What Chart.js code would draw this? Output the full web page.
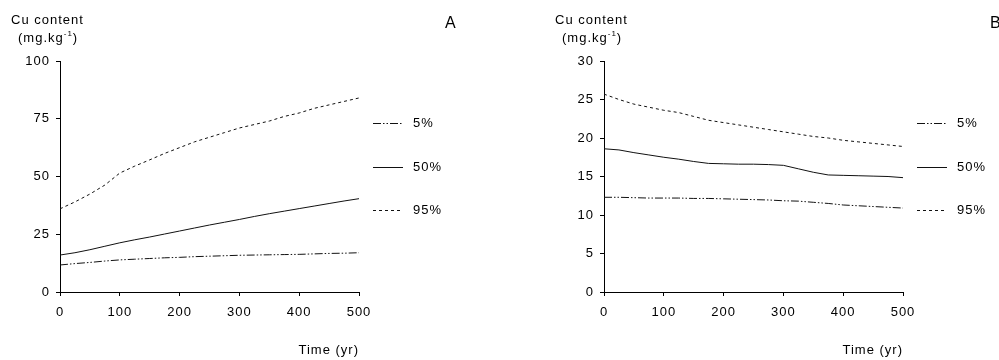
<!DOCTYPE html>
<html>
<head>
<meta charset="utf-8">
<script src="https://cdn.jsdelivr.net/npm/chart.js@4.4.1/dist/chart.umd.min.js"></script>
<style>
  html, body { margin: 0; padding: 0; background: #fff; }
  #wrap { position: relative; width: 999px; height: 360px; overflow: hidden; }
  .panel { position: absolute; top: 0; height: 360px; }
  #pA { left: 0; width: 540px; }
  #pB { left: 540px; width: 459px; }
</style>
</head>
<body>
<div id="wrap">
  <div class="panel" id="pA"><canvas id="cA" width="540" height="360"></canvas></div>
  <div class="panel" id="pB"><canvas id="cB" width="459" height="360"></canvas></div>
</div>
<script>
// Time axis (years) shared by both panels
const years = [0, 25, 50, 75, 100, 125, 150, 175, 200, 225, 250, 275, 300, 325, 350, 375, 400, 425, 450, 475, 500];
const seriesLabels = ['5%', '50%', '95%'];
const xTicks = [0, 100, 200, 300, 400, 500];

// Panel A: Cu content percentiles (mg/kg)
const copperA5  = [11.7, 12.3, 12.8, 13.4, 13.9, 14.2, 14.5, 14.8, 15.0, 15.3, 15.5, 15.7, 15.9, 16.0, 16.1, 16.2, 16.3, 16.5, 16.7, 16.8, 17.0];
const copperA50 = [16.0, 17.0, 18.3, 19.8, 21.3, 22.6, 23.8, 25.1, 26.4, 27.7, 29.0, 30.2, 31.4, 32.7, 33.9, 35.0, 36.1, 37.2, 38.3, 39.4, 40.4];
const copperA95 = [36.0, 39.0, 42.4, 46.3, 51.5, 54.5, 57.2, 60.0, 62.5, 65.0, 67.0, 69.0, 71.0, 72.5, 74.0, 76.0, 77.5, 79.5, 81.0, 82.5, 84.0];
const yTicksA = [0, 25, 50, 75, 100];

// Panel B: Cu content percentiles (mg/kg)
const copperB5  = [12.3, 12.3, 12.25, 12.2, 12.2, 12.2, 12.15, 12.15, 12.1, 12.05, 12.0, 11.95, 11.85, 11.8, 11.65, 11.5, 11.3, 11.2, 11.1, 11.0, 10.9];
const copperB50 = [18.6, 18.45, 18.1, 17.8, 17.5, 17.25, 16.95, 16.7, 16.65, 16.6, 16.6, 16.55, 16.45, 16.0, 15.55, 15.2, 15.15, 15.1, 15.05, 15.0, 14.85];
const copperB95 = [25.7, 25.0, 24.4, 24.0, 23.6, 23.3, 22.8, 22.3, 22.0, 21.7, 21.4, 21.1, 20.8, 20.5, 20.2, 20.0, 19.7, 19.5, 19.3, 19.1, 18.9];
const yTicksB = [0, 5, 10, 15, 20, 25, 30];

const FAMILY = "'Liberation Sans', Arial, Helvetica, sans-serif";
const INK = '#000';
const LETTER_SPACING = '1px';
const dashes = [[8, 2, 1.5, 2, 1.5, 2], [], [3, 3]];

// Keep the slightly spaced lettering on every pass (layout and paint)
const spacingPlugin = {
  id: 'spacing',
  beforeUpdate(chart) { chart.ctx.letterSpacing = LETTER_SPACING; },
  beforeDraw(chart) { chart.ctx.letterSpacing = LETTER_SPACING; }
};

// Axis caption, panel letter and the line-style key beside the plot
const annotPlugin = {
  id: 'annot',
  afterDraw(chart, args, opts) {
    const ctx = chart.ctx;
    const area = chart.chartArea;
    ctx.save();
    ctx.letterSpacing = LETTER_SPACING;
    ctx.fillStyle = INK;
    ctx.textBaseline = 'middle';
    ctx.textAlign = 'left';

    ctx.font = '13px ' + FAMILY;
    ctx.fillText('Cu content', opts.captionX, 20);

    // unit with superscript exponent
    let x = opts.captionX + 7;
    const base = '(mg.kg';
    ctx.fillText(base, x, 38);
    x += ctx.measureText(base).width;
    ctx.font = '8px ' + FAMILY;
    ctx.fillText('-1', x, 34);
    x += ctx.measureText('-1').width;
    ctx.font = '13px ' + FAMILY;
    ctx.fillText(')', x, 38);

    ctx.font = '16px ' + FAMILY;
    ctx.fillText(opts.letter, opts.letterX, 24);

    // key
    ctx.font = '13px ' + FAMILY;
    const keyY = [123, 167, 210];
    chart.data.datasets.forEach((ds, i) => {
      const y = keyY[i];
      ctx.save();
      ctx.strokeStyle = ds.borderColor;
      ctx.lineWidth = ds.borderWidth;
      ctx.setLineDash(ds.borderDash || []);
      ctx.beginPath();
      ctx.moveTo(area.right + 14, y + 0.5);
      ctx.lineTo(area.right + 44, y + 0.5);
      ctx.stroke();
      ctx.restore();
      ctx.fillText(ds.label, area.right + 54, y);
    });
    ctx.restore();
  }
};

function makePanel(canvasId, series, yVals, plotLeft, plotRight, letter, letterX, captionX) {
  const canvas = document.getElementById(canvasId);
  const width = canvas.width;
  const font = { family: FAMILY, size: 13 };
  return new Chart(canvas, {
    type: 'line',
    data: {
      datasets: series.map((vals, i) => ({
        label: seriesLabels[i],
        data: years.map((t, k) => ({ x: t, y: vals[k] })),
        borderColor: '#111',
        borderWidth: 1,
        borderDash: dashes[i],
        pointRadius: 0,
        fill: false,
        tension: 0
      }))
    },
    options: {
      responsive: false,
      animation: false,
      events: [],
      layout: { padding: { top: 61, left: 0, right: width - plotRight, bottom: 0 } },
      plugins: {
        legend: { display: false },
        tooltip: { enabled: false },
        annot: { letter: letter, letterX: letterX, captionX: captionX }
      },
      scales: {
        x: {
          type: 'linear',
          min: xTicks[0],
          max: xTicks[xTicks.length - 1],
          afterBuildTicks(scale) { scale.ticks = xTicks.map(v => ({ value: v })); },
          afterFit(scale) { scale.height = 68; },
          ticks: { color: INK, font: font, padding: 9, maxRotation: 0 },
          grid: { drawOnChartArea: false, drawTicks: true, tickLength: 4, color: INK, lineWidth: 1 },
          border: { display: true, color: INK, width: 1 },
          title: {
            display: true, text: 'Time (yr)', align: 'end', color: INK, font: font,
            padding: { top: 0, bottom: 2 }
          }
        },
        y: {
          type: 'linear',
          min: yVals[0],
          max: yVals[yVals.length - 1],
          afterBuildTicks(scale) { scale.ticks = yVals.map(v => ({ value: v })); },
          afterFit(scale) { scale.width = plotLeft; },
          ticks: { color: INK, font: font, padding: 6 },
          grid: { drawOnChartArea: false, drawTicks: true, tickLength: 4, color: INK, lineWidth: 1 },
          border: { display: true, color: INK, width: 1 }
        }
      }
    },
    plugins: [spacingPlugin, annotPlugin]
  });
}

makePanel('cA', [copperA5, copperA50, copperA95], yTicksA, 60, 359, 'A', 445, 11);
makePanel('cB', [copperB5, copperB50, copperB95], yTicksB, 64, 363, 'B', 450, 15);
</script>
</body>
</html>
